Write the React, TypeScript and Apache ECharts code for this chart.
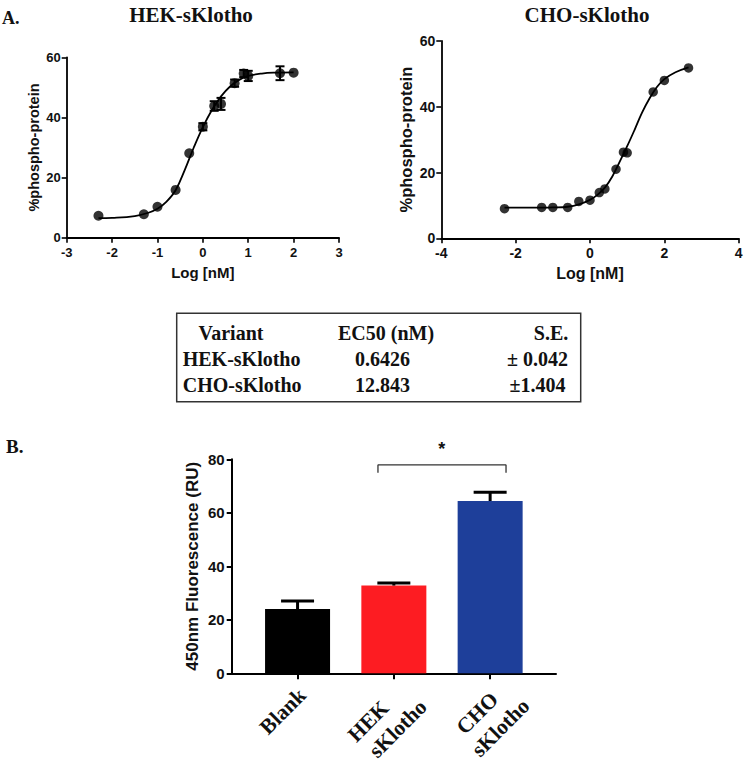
import React, { useEffect, useRef } from "react";
import * as echarts from "echarts";

// ---- Data ----
const L_X = [-2.3, -1.3, -1.0, -0.6, -0.3, 0.0, 0.25, 0.4, 0.7, 0.9, 1.0, 1.7, 2.0];
const L_Y = [7.3, 7.8, 10.3, 15.9, 28.1, 36.9, 43.8, 44.5, 51.4, 54.6, 53.8, 54.7, 54.9];
const L_ERR = [0, 0, 0, 0, 0, 1.2, 1.6, 2.0, 1.2, 1.2, 1.7, 2.3, 0];
const L_CURVE_X = [-2.3, -2.0, -1.5, -1.2, -1.0, -0.8, -0.6, -0.4, -0.2, 0.0, 0.2, 0.4, 0.6, 0.8, 1.0, 1.3, 1.6, 2.0];
const L_CURVE_Y = [6.5, 6.6, 7.2, 8.3, 9.6, 12.0, 15.8, 22.5, 30.0, 36.8, 42.5, 47.0, 50.3, 52.5, 53.8, 54.6, 54.9, 55.0];

const R_X = [-2.3, -1.3, -1.0, -0.6, -0.3, 0.0, 0.25, 0.4, 0.7, 0.9, 1.0, 1.7, 2.0, 2.65];
const R_Y = [9.0, 9.4, 9.4, 9.4, 11.2, 11.6, 13.9, 15.0, 21.0, 26.2, 26.0, 44.5, 48.0, 51.8];
const R_CURVE_X = [-2.3, -1.5, -1.0, -0.6, -0.3, 0.0, 0.2, 0.4, 0.6, 0.8, 1.0, 1.2, 1.4, 1.6, 1.8, 2.0, 2.3, 2.65];
const R_CURVE_Y = [9.3, 9.3, 9.4, 9.6, 10.3, 11.7, 13.2, 15.4, 18.8, 23.3, 28.0, 33.0, 38.2, 42.5, 46.0, 48.4, 50.5, 52.0];

const BAR_CATS = ["Blank", "HEK\nsKlotho", "CHO\nsKlotho"];
const BAR_VALUES = [24.0, 32.8, 64.4];
const BAR_ERR = [3.0, 1.0, 3.3];
const BAR_COLORS = ["#000000", "#fd1c22", "#1e3f9a"];
const SIG_PAIR = [1, 2];
const SIG_LABEL = "*";

const TABLE_HEADER = ["Variant", "EC50 (nM)", "S.E."];
const TABLE_ROWS = [
  ["HEK-sKlotho", "0.6426", "± 0.042"],
  ["CHO-sKlotho", "12.843", "±1.404"],
];

const SANS = "'Liberation Sans', Arial, sans-serif";
const SERIF = "'Liberation Serif', 'Times New Roman', serif";
const INK = "#111";

// offsets (px) of each label line's centre from its tick on the axis line
const CAT_LINE_OFFSETS = [
  [[-14.8, 38.0]],
  [[-25.5, 48.0], [4.0, 55.5]],
  [[-12.7, 40.0], [10.5, 54.5]],
];

function errRender(halfCap: number, lw: number, upperOnly: boolean) {
  return (params: any, api: any) => {
    const x = api.value(0);
    const y = api.value(1);
    const e = api.value(2);
    const top = api.coord([x, y + e]);
    const bot = upperOnly ? api.coord([x, y]) : api.coord([x, y - e]);
    const style = { stroke: "#000", lineWidth: lw };
    const children: any[] = [
      { type: "line", shape: { x1: top[0], y1: top[1], x2: bot[0], y2: bot[1] }, style },
      { type: "line", shape: { x1: top[0] - halfCap, y1: top[1], x2: top[0] + halfCap, y2: top[1] }, style },
    ];
    if (!upperOnly) {
      children.push({ type: "line", shape: { x1: bot[0] - halfCap, y1: bot[1], x2: bot[0] + halfCap, y2: bot[1] }, style });
    }
    return { type: "group", children };
  };
}

export default function App() {
  const ref = useRef<HTMLDivElement>(null);
  useEffect(() => {
    if (!ref.current) return;
    const chart = echarts.init(ref.current, null, { renderer: "svg" });

    const axisLineStyle = (w: number) => ({ show: true, onZero: false, lineStyle: { color: "#000", width: w } });
    const tickLabel = (size: number, margin: number) => ({
      fontFamily: SANS, fontWeight: "bold" as const, fontSize: size, color: INK, margin,
    });

    const staticGraphic: any[] = [
      { type: "text", left: 2, top: 9, style: { text: "A.", font: `bold 18px ${SERIF}`, fill: INK } },
      { type: "text", x: 191, y: 15, style: { text: "HEK-sKlotho", font: `bold 21px ${SERIF}`, fill: INK, align: "center", verticalAlign: "middle" } },
      { type: "text", x: 587, y: 15, style: { text: "CHO-sKlotho", font: `bold 21px ${SERIF}`, fill: INK, align: "center", verticalAlign: "middle" } },
      { type: "rect", shape: { x: 176.7, y: 313.3, width: 404, height: 88.4 }, style: { fill: "none", stroke: "#333", lineWidth: 1.5 } },
      { type: "text", x: 231, y: 333, style: { text: TABLE_HEADER[0], font: `bold 20px ${SERIF}`, fill: INK, align: "center", verticalAlign: "middle" } },
      { type: "text", x: 386, y: 333, style: { text: TABLE_HEADER[1], font: `bold 20px ${SERIF}`, fill: INK, align: "center", verticalAlign: "middle" } },
      { type: "text", x: 551, y: 333, style: { text: TABLE_HEADER[2], font: `bold 20px ${SERIF}`, fill: INK, align: "center", verticalAlign: "middle" } },
      ...TABLE_ROWS.flatMap((row, r) => [
        { type: "text", x: 182.7, y: 359 + r * 25.5, style: { text: row[0], font: `bold 20px ${SERIF}`, fill: INK, align: "left", verticalAlign: "middle" } },
        { type: "text", x: 382.5, y: 359 + r * 25.5, style: { text: row[1], font: `bold 20px ${SERIF}`, fill: INK, align: "center", verticalAlign: "middle" } },
        { type: "text", x: 537.5, y: 359 + r * 25.5, style: { text: row[2], font: `bold 20px ${SERIF}`, fill: INK, align: "center", verticalAlign: "middle" } },
      ]),
      { type: "text", x: 6, y: 446, style: { text: "B.", font: `bold 19px ${SERIF}`, fill: INK, align: "left", verticalAlign: "middle" } },
      { type: "text", x: 441.7, y: 449, style: { text: SIG_LABEL, font: `bold 18px ${SANS}`, fill: INK, align: "center", verticalAlign: "middle" } },
    ];

    const option: any = {
      animation: false,
      grid: [
        { left: 66.7, top: 57.3, width: 272.3, height: 180.4, outerBoundsMode: "none" },
        { left: 441.3, top: 41, width: 297.4, height: 197.3, outerBoundsMode: "none" },
        { left: 231.7, top: 459.3, width: 324.3, height: 214, outerBoundsMode: "none" },
      ],
      xAxis: [
        {
          type: "value", gridIndex: 0, min: -3, max: 3, interval: 1,
          axisLine: axisLineStyle(1.8), axisTick: { show: true, length: 5, lineStyle: { width: 1.6, color: "#000" } },
          splitLine: { show: false }, axisLabel: tickLabel(13, 8),
          name: "Log [nM]", nameLocation: "middle", nameGap: 27,
          nameTextStyle: { fontFamily: SANS, fontWeight: "bold", fontSize: 15, color: INK },
        },
        {
          type: "value", gridIndex: 1, min: -4, max: 4, interval: 2,
          axisLine: axisLineStyle(1.8), axisTick: { show: true, length: 5, lineStyle: { width: 1.6, color: "#000" } },
          splitLine: { show: false }, axisLabel: tickLabel(14, 8),
          name: "Log [nM]", nameLocation: "middle", nameGap: 27,
          nameTextStyle: { fontFamily: SANS, fontWeight: "bold", fontSize: 16, color: INK },
        },
        {
          type: "value", gridIndex: 2, min: -0.684, max: 2.684,
          axisLine: axisLineStyle(2),
          axisTick: { show: true, length: 6, customValues: [0, 1, 2], lineStyle: { width: 2, color: "#000" } },
          splitLine: { show: false },
          axisLabel: { show: false },
        },
      ],
      yAxis: [
        {
          type: "value", gridIndex: 0, min: 0, max: 60, interval: 20,
          axisLine: axisLineStyle(1.8), axisTick: { show: true, length: 5, lineStyle: { width: 1.6, color: "#000" } },
          splitLine: { show: false }, axisLabel: tickLabel(13, 6),
          name: "%phospho-protein", nameLocation: "middle", nameGap: 25,
          nameTextStyle: { fontFamily: SANS, fontWeight: "bold", fontSize: 14.5, color: INK },
        },
        {
          type: "value", gridIndex: 1, min: 0, max: 60, interval: 20,
          axisLine: axisLineStyle(1.8), axisTick: { show: true, length: 5, lineStyle: { width: 1.6, color: "#000" } },
          splitLine: { show: false }, axisLabel: tickLabel(14, 6),
          name: "%phospho-protein", nameLocation: "middle", nameGap: 27,
          nameTextStyle: { fontFamily: SANS, fontWeight: "bold", fontSize: 16.5, color: INK },
        },
        {
          type: "value", gridIndex: 2, min: 0, max: 80, interval: 20,
          axisLine: axisLineStyle(2), axisTick: { show: true, length: 5, lineStyle: { width: 2, color: "#000" } },
          splitLine: { show: false }, axisLabel: tickLabel(15, 7),
          name: "450nm Fluorescence (RU)", nameLocation: "middle", nameGap: 31,
          nameTextStyle: { fontFamily: SANS, fontWeight: "bold", fontSize: 17, color: INK },
        },
      ],
      series: [
        {
          type: "line", xAxisIndex: 0, yAxisIndex: 0, smooth: 0.4, showSymbol: false,
          lineStyle: { color: "#000", width: 1.8 }, data: L_CURVE_X.map((x, i) => [x, L_CURVE_Y[i]]), z: 2,
        },
        {
          type: "custom", xAxisIndex: 0, yAxisIndex: 0, renderItem: errRender(4.5, 2, false),
          data: L_X.map((x, i) => [x, L_Y[i], L_ERR[i]]).filter((d) => d[2] > 0), z: 3,
        },
        {
          type: "scatter", xAxisIndex: 0, yAxisIndex: 0, symbol: "circle", symbolSize: 10,
          itemStyle: { color: "#000" }, data: L_X.map((x, i) => [x, L_Y[i]]), z: 4,
        },
        {
          type: "line", xAxisIndex: 1, yAxisIndex: 1, smooth: 0.4, showSymbol: false,
          lineStyle: { color: "#000", width: 1.8 }, data: R_CURVE_X.map((x, i) => [x, R_CURVE_Y[i]]), z: 2,
        },
        {
          type: "scatter", xAxisIndex: 1, yAxisIndex: 1, symbol: "circle", symbolSize: 9.5,
          itemStyle: { color: "#000" }, data: R_X.map((x, i) => [x, R_Y[i]]), z: 4,
        },
        {
          type: "bar", xAxisIndex: 2, yAxisIndex: 2, barWidth: 65,
          data: BAR_VALUES.map((v, i) => ({ value: [i, v], itemStyle: { color: BAR_COLORS[i] } })), z: 2,
        },
        {
          type: "custom", xAxisIndex: 2, yAxisIndex: 2, renderItem: errRender(16.5, 3, true),
          data: BAR_VALUES.map((v, i) => [i, v, BAR_ERR[i]]), z: 3,
        },
        {
          type: "line", xAxisIndex: 2, yAxisIndex: 2, showSymbol: false, silent: true,
          lineStyle: { color: "#333", width: 1.3 },
          data: [
            [SIG_PAIR[0] - 0.165, 75], [SIG_PAIR[0] - 0.165, 77.9],
            [SIG_PAIR[1] + 0.165, 77.9], [SIG_PAIR[1] + 0.165, 75],
          ],
        },
      ],
      graphic: staticGraphic,
    };
    chart.setOption(option);

    // Rotated category labels (one plain text per line), placed from each tick's pixel position.
    const catGraphic: any[] = [];
    BAR_CATS.forEach((name, i) => {
      const p = chart.convertToPixel({ xAxisIndex: 2, yAxisIndex: 2 } as any, [i, 0]) as number[];
      name.split("\n").forEach((line, j) => {
        const off = CAT_LINE_OFFSETS[i][j];
        catGraphic.push({
          type: "text",
          x: p[0] + off[0],
          y: p[1] + off[1],
          rotation: Math.PI / 4,
          style: {
            text: line,
            font: `bold 21.5px ${SERIF}`,
            fill: INK,
            align: "center",
            verticalAlign: "middle",
          },
        });
      });
    });
    chart.setOption({ graphic: [...staticGraphic, ...catGraphic] });

    return () => chart.dispose();
  }, []);
  return (
    <div
      ref={ref}
      style={{ position: "absolute", left: 0, top: 0, width: 745, height: 765, background: "#fff" }}
    />
  );
}
